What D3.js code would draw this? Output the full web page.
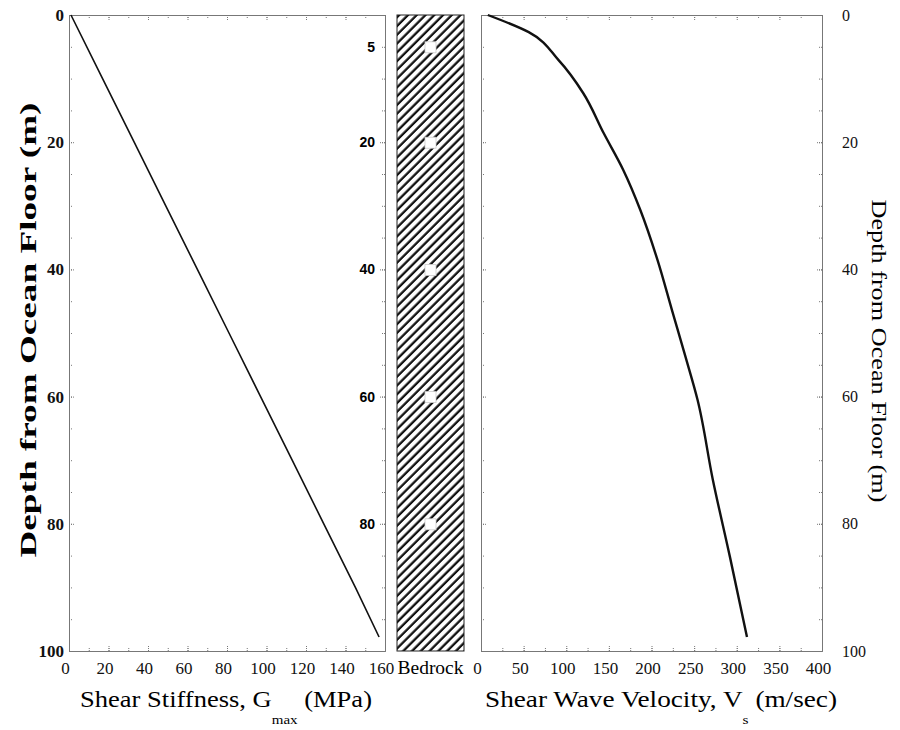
<!DOCTYPE html>
<html>
<head>
<meta charset="utf-8">
<script src="https://cdn.jsdelivr.net/npm/d3@7"></script>
<style>
  body { margin: 0; background: #fff; }
  svg { display: block; }
  .frame path.domain, .frame .tick line { stroke: #777; stroke-dasharray: 1,1; }
</style>
</head>
<body>
<svg id="chart" width="900" height="730"></svg>
<script>
// values
const depthG = [0, 10, 20, 30, 40, 50, 60, 70, 80, 90, 97.8];
const gmax = [1, 17, 33, 49, 65, 81, 97, 113, 129, 145, 157];

const depthV = [0, 2.7, 7.1, 12.3, 18.6, 24.4, 30.7, 38.5, 46.4, 53.8, 60.5, 73.1, 85.2, 97.8];
const vs = [8, 56, 91, 120, 144, 167, 187, 207, 224, 240, 254, 272, 292, 312];

const sampleDepths = [5, 20, 40, 60, 80];

const depthTicks = [0, 20, 40, 60, 80, 100];
const gTicks = [0, 20, 40, 60, 80, 100, 120, 140, 160];
const vTicks = [0, 50, 100, 150, 200, 250, 300, 350, 400];

const serif = "Liberation Serif";
const yTop = 15, yBottom = 651;

const svg = d3.select("#chart");

const y = d3.scaleLinear().domain([0, 100]).range([yTop, yBottom]);
const xG = d3.scaleLinear().domain([0, 160]).range([69, 385]);
const xV = d3.scaleLinear().domain([0, 400]).range([481, 822]);

function serifText(sel, size) {
  sel.selectAll("text")
    .attr("font-family", serif).attr("font-size", size).attr("fill", "#111");
}

function frame(x, opts) {
  const g = svg.append("g").attr("class", "frame");
  const [x0, x1] = x.range();
  const minorX = d3.range(x.domain()[0], x.domain()[1] + 1e-9, opts.minorX);
  const minorY = d3.range(0, 100.001, 5);

  // bottom: minor + major with labels
  g.append("g").attr("transform", `translate(0,${yBottom})`)
    .call(d3.axisBottom(x).tickValues(minorX).tickSize(-3).tickFormat(""));
  g.append("g").attr("transform", `translate(0,${yBottom})`)
    .call(d3.axisBottom(x).tickValues(opts.ticks).tickSize(-6).tickPadding(23))
    .call(a => serifText(a, 17))
    .call(a => a.selectAll("text").attr("dx", -4).attr("dy", 0));
  // top
  g.append("g").attr("transform", `translate(0,${yTop})`)
    .call(d3.axisTop(x).tickValues(minorX).tickSize(-3).tickFormat(""));
  g.append("g").attr("transform", `translate(0,${yTop})`)
    .call(d3.axisTop(x).tickValues(opts.ticks).tickSize(-6).tickFormat(""));
  // left / right
  [[d3.axisLeft, x0], [d3.axisRight, x1]].forEach(([ax, xp]) => {
    g.append("g").attr("transform", `translate(${xp},0)`)
      .call(ax(y).tickValues(minorY).tickSize(-3).tickFormat(""));
    g.append("g").attr("transform", `translate(${xp},0)`)
      .call(ax(y).tickValues(depthTicks).tickSize(-6).tickFormat(""));
  });
  return g;
}

// left panel
const gl = frame(xG, { ticks: gTicks, minorX: 10 });
gl.append("g").attr("transform", `translate(${xG.range()[0]},0)`)
  .call(d3.axisLeft(y).tickValues(depthTicks).tickSize(0).tickPadding(5))
  .call(a => a.select(".domain").remove())
  .call(a => serifText(a, 17))
  .call(a => a.selectAll("text").attr("font-weight", "bold"));

svg.append("path")
  .datum(depthG.map((d, i) => [gmax[i], d]))
  .attr("fill", "none").attr("stroke", "#111").attr("stroke-width", 1.6)
  .attr("d", d3.line().x(d => xG(d[0])).y(d => y(d[1])));

// sample depth labels
svg.append("g").selectAll("text").data(sampleDepths).join("text")
  .attr("x", 375).attr("y", d => y(d)).attr("dy", "0.35em")
  .attr("text-anchor", "end")
  .attr("font-family", "Liberation Sans")
  .attr("font-weight", "bold").attr("font-size", 14)
  .text(d => d);

// bedrock column
const defs = svg.append("defs");
defs.append("pattern")
  .attr("id", "hatch").attr("patternUnits", "userSpaceOnUse")
  .attr("width", 6.2).attr("height", 6.2)
  .attr("patternTransform", "rotate(45)")
  .append("line").attr("x1", 1.5).attr("y1", 0).attr("x2", 1.5).attr("y2", 6.2)
  .attr("stroke", "#111").attr("stroke-width", 2.3);

const bx0 = 397, bx1 = 464;
svg.append("rect")
  .attr("x", bx0).attr("y", y(0)).attr("width", bx1 - bx0).attr("height", y(100) - y(0))
  .attr("fill", "url(#hatch)").attr("stroke", "#222").attr("stroke-width", 1);

svg.append("g").selectAll("rect").data(sampleDepths).join("rect")
  .attr("x", 425).attr("y", d => y(d) - 5).attr("width", 11).attr("height", 11)
  .attr("fill", "#fff").attr("stroke", "#ccc").attr("stroke-width", 0.8);

svg.append("text")
  .attr("x", (bx0 + bx1) / 2).attr("y", 674).attr("text-anchor", "middle")
  .attr("font-family", serif).attr("font-size", 19)
  .attr("textLength", 66).attr("lengthAdjust", "spacingAndGlyphs")
  .text("Bedrock");

// right panel
const gr = frame(xV, { ticks: vTicks, minorX: 25 });
gr.append("g").attr("transform", `translate(${xV.range()[1]},0)`)
  .call(d3.axisRight(y).tickValues(depthTicks).tickSize(0).tickPadding(20))
  .call(a => a.select(".domain").remove())
  .call(a => serifText(a, 16));

svg.append("path")
  .datum(depthV.map((d, i) => [vs[i], d]))
  .attr("fill", "none").attr("stroke", "#111").attr("stroke-width", 2.4)
  .attr("stroke-linejoin", "round")
  .attr("d", d3.line().curve(d3.curveMonotoneY).x(d => xV(d[0])).y(d => y(d[1])));

// axis titles
function xTitle(cx, width, main, sub, tail) {
  const t = svg.append("text")
    .attr("x", cx).attr("y", 707).attr("text-anchor", "middle")
    .attr("font-family", serif).attr("font-size", 23)
    .attr("textLength", width).attr("lengthAdjust", "spacingAndGlyphs");
  t.append("tspan").text(main);
  t.append("tspan").attr("font-size", 13).attr("dy", 17).text(sub);
  t.append("tspan").attr("dy", -17).text(tail);
}
xTitle(226, 292, "Shear Stiffness, G", "max", "  (MPa)");
xTitle(661, 352, "Shear Wave Velocity, V", "s", " (m/sec)");

svg.append("text")
  .attr("transform", "translate(36,330) rotate(-90)")
  .attr("text-anchor", "middle").attr("font-family", serif)
  .attr("font-size", 23).attr("font-weight", "bold")
  .attr("textLength", 455).attr("lengthAdjust", "spacingAndGlyphs")
  .text("Depth from Ocean Floor (m)");

svg.append("text")
  .attr("transform", "translate(872,351) rotate(90)")
  .attr("text-anchor", "middle").attr("font-family", serif)
  .attr("font-size", 22)
  .attr("textLength", 303).attr("lengthAdjust", "spacingAndGlyphs")
  .text("Depth from Ocean Floor (m)");
</script>
</body>
</html>
